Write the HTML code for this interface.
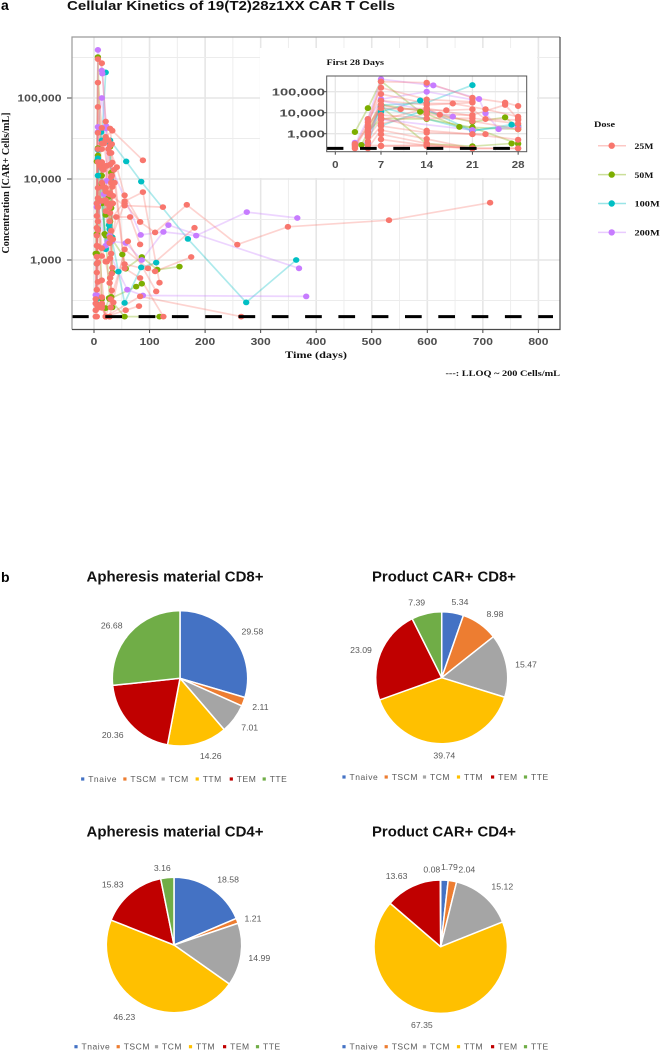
<!DOCTYPE html>
<html>
<head>
<meta charset="utf-8">
<title>Cellular Kinetics of 19(T2)28z1XX CAR T Cells</title>
<style>
html,body{margin:0;padding:0;background:#fff;}
#figure{display:block;width:660px;height:1050px;overflow:hidden;filter:blur(0.35px);}
</style>
</head>
<body>
<svg id="figure" xmlns="http://www.w3.org/2000/svg" width="660" height="1050" viewBox="0 0 660 1050">
  <text x="1" y="10" font-family="'Liberation Sans',sans-serif" font-weight="700" font-size="14" fill="#000">a</text>
  <text x="67" y="10" textLength="328" lengthAdjust="spacingAndGlyphs" font-family="'Liberation Sans',sans-serif" font-weight="700" font-size="13" fill="#111">Cellular Kinetics of 19(T2)28z1XX CAR T Cells</text>
  <text x="1" y="582" font-family="'Liberation Sans',sans-serif" font-weight="700" font-size="14" fill="#000">b</text>
  <g id="main-chart"></g>
  <g id="inset-chart"></g>
  <g id="dose-legend"></g>
  <g id="pies"></g>
</svg>
<script>
/* ---------- kinetics data: one array per dose, each patient a list of [day, cells/mL] ---------- */
const doseLabels = ['25M', '50M', '100M', '200M'];
const patients25M = [
  [[3,290],[5,2000],[7,302000],[14,269000],[21,51300],[26,30200],[28,20900]],
  [[5,5000],[7,155000],[14,42700],[21,33100],[33,39500],[88,17000]],
  [[3,240],[5,3500],[7,77600],[14,27500],[18,27500],[23,14500],[28,6460]],
  [[5,1500],[7,37200],[14,23400],[21,30200],[41,14000],[55,6300],[83,2950],[110,2190],[167,4800],[258,1550],[349,2570],[531,3100],[713,5100]],
  [[5,900],[7,23400],[10,14800],[14,16200],[16,8000],[21,7760],[26,23400],[28,5000]],
  [[3,200],[5,2500],[7,16200],[14,13500],[17,13000],[21,14500],[23,5000],[28,4470]],
  [[5,1100],[7,7760],[14,5370],[21,5500],[28,3000],[55,5300],[88,6900],[118,525]],
  [[5,700],[7,4470],[14,16000],[21,7000],[55,4700],[124,4500]],
  [[5,430],[7,2340],[14,1120],[21,955],[23,955],[40,3400],[65,3400],[83,1560]],
  [[5,200],[7,1480],[14,562],[21,200],[61,1700],[112,410]],
  [[7,933],[14,347],[21,200],[83,355],[265,200]],
  [[7,537],[14,275],[21,200],[57,240],[81,270]],
  [[7,257],[14,257],[21,200],[28,200],[55,1350],[97,790],[181,2500]],
  [[30,330],[32,11000],[36,13000],[55,890],[110,725],[175,1090]],
  [[30,260],[33,8000],[37,9000],[55,790],[83,600],[125,200]],
  [[7,3000],[14,9000],[21,4000],[28,1620],[55,5000],[83,2950]],
  [[7,5800],[14,1400],[21,955],[28,520]],
  [[29,1900],[31,1200],[33,800]],
  [[3,330],[5,280],[7,270],[14,290],[21,200],[28,200]],
  [[29,600],[32,420],[35,300]],
  [[29,3800],[31,2300],[34,1800]],
  [[29,15000],[31,9000],[34,6200]],
  [[29,26000],[31,21000],[33,16000]],
  [[29,6700],[31,10500],[34,5000]],
  [[29,1050],[32,680]],
  [[29,42000],[32,27000]]
];
const patients50M = [
  [[3,1200],[5,16500],[7,320000],[13,11000],[14,8700],[19,2100],[28,1620]],
  [[4,290],[7,19500],[14,330],[21,255],[27,340],[55,200],[118,200]],
  [[5,2100],[7,24000],[14,11000],[21,3600],[26,6000],[28,2000],[51,1170],[57,780],[86,1090],[114,760],[154,830]],
  [[5,1200],[7,5200],[14,5000],[21,2000],[28,330],[76,470],[86,510]],
  [[29,3000],[31,12000],[33,700]],
  [[29,25000],[31,4400],[33,1900]],
  [[29,600],[31,350],[33,260]]
];
const patients100M = [
  [[5,330],[7,23000],[14,30000],[21,207000]],
  [[7,11000],[13,38000],[29,30000],[58,16500],[85,9300],[169,1820],[274,300],[364,1000]],
  [[7,2400],[14,14000],[21,1360],[27,2700],[44,720],[55,295],[85,810],[112,930]],
  [[5,900],[7,18000],[21,1400],[28,2400]],
  [[29,27000],[31,9500],[33,1900]]
];
const patients200M = [
  [[3,290],[5,5000],[7,392000],[14,218000],[15,200000],[22,45000],[23,9500],[25,1650],[28,2000]],
  [[3,370],[5,370],[7,44000],[14,100000],[21,42000],[29,15000],[84,2040],[125,2220],[184,2000],[275,3900],[366,3300]],
  [[5,4500],[7,38000],[18,6500],[32,1700],[57,1620],[86,1000],[134,2700],[369,790]],
  [[7,4800],[21,1500],[60,430],[88,365],[382,355]]
];
const xTicksMain = ['0','100','200','300','400','500','600','700','800'];
const yTicksMain = ['1,000','10,000','100,000'];
const xTicksInset = ['0','7','14','21','28'];
const yTicksInset = ['1,000','10,000','100,000'];
const lloqValue = 200;

/* ---------- pie data ---------- */
const sliceLabels = ['Tnaive','TSCM','TCM','TTM','TEM','TTE'];
const titlesPies = ['Apheresis material CD8+','Product CAR+ CD8+','Apheresis material CD4+','Product CAR+ CD4+'];
const valuesCd8Apheresis = [29.58,2.11,7.01,14.26,20.36,26.68];
const valuesCd8Product = [5.34,8.98,15.47,39.74,23.09,7.39];
const valuesCd4Apheresis = [18.58,1.21,14.99,46.23,15.83,3.16];
const valuesCd4Product = [1.79,2.04,15.12,67.35,13.63,0.08];

/* ---------- layout ---------- */
const NS = 'http://www.w3.org/2000/svg';
const doseColors = ['#F8766D','#7CAE00','#00BFC4','#C77CFF'];
const doseKeys = ['dose-25m','dose-50m','dose-100m','dose-200m'];
const allDoses = [patients25M, patients50M, patients100M, patients200M];
const sliceColors = ['#4472C4','#ED7D31','#A5A5A5','#FFC000','#C00000','#70AD47'];
const SANS = "'Liberation Sans',sans-serif";
const SERIF = "'Liberation Serif',serif";

function make(tag, parent, attrs, text) {
  const n = document.createElementNS(NS, tag);
  for (const k in attrs) n.setAttribute(k, attrs[k]);
  if (text !== undefined) n.textContent = text;
  parent.appendChild(n);
  return n;
}

/* axis functions */
const mainX = d => 94 + d * 0.5555;
const mainY = v => 98 + (5 - Math.log10(v)) * 81;
const insetX = d => 335.3 + d * 6.53;
const insetY = v => 91.7 + (5 - Math.log10(v)) * 21;

function drawSeries(parent, xf, yf, maxDay, rx, ry, prefix) {
  const order = [1, 2, 3, 0];
  order.forEach(i => {
    allDoses[i].forEach((pts, p) => {
      const shown = pts.filter(q => q[0] <= maxDay);
      if (!shown.length) return;
      const line = make('polyline', parent, {
        points: shown.map(q => xf(q[0]).toFixed(1) + ',' + yf(q[1]).toFixed(1)).join(' '),
        fill: 'none', stroke: doseColors[i], 'stroke-width': 1.7, 'stroke-opacity': 0.32
      });
      
      
    });
  });
  order.forEach(i => {
    allDoses[i].forEach(pts => {
      pts.filter(q => q[0] <= maxDay).forEach(q => {
        const dot = make('ellipse', parent, {
          cx: xf(q[0]).toFixed(1), cy: yf(q[1]).toFixed(1), rx: rx, ry: ry, fill: doseColors[i]
        });
        
        
      });
    });
  });
}

function drawLloq(parent, x0, x1, y, name) {
  const l = make('line', parent, {
    x1: x0, x2: x1, y1: y, y2: y, stroke: '#000', 'stroke-width': 3, 'stroke-dasharray': '16.7 16.6'
  });
  
  
}

/* ---------- main chart ---------- */
(function () {
  const g = document.getElementById('main-chart');
  const L = 72, R = 560, T = 37, B = 329.5;
  const bg = make('rect', g, {x: L, y: T, width: R - L, height: B - T, fill: '#fff'});
  
  
  xTicksMain.forEach(t => {
    const d = +t;
    const maj = make('line', g, {x1: mainX(d), x2: mainX(d), y1: T, y2: B, stroke: '#e6e6e6', 'stroke-width': 1.6});
    
    
    if (d < 800) {
      const min = make('line', g, {x1: mainX(d + 50), x2: mainX(d + 50), y1: T, y2: B, stroke: '#ececec', 'stroke-width': 0.9});
      
      
    }
    const tick = make('line', g, {x1: mainX(d), x2: mainX(d), y1: B, y2: B + 3.5, stroke: '#444', 'stroke-width': 1});
    
    
    const label = make('text', g, {
      x: mainX(d), y: 345, 'text-anchor': 'middle', 'font-family': SANS, 'font-weight': 700, 'font-size': 10,
      fill: '#4d4d4d', textLength: t.length * 6.7, lengthAdjust: 'spacingAndGlyphs'
    }, t);
    
    
  });
  yTicksMain.forEach(t => {
    const v = +t.replace(/,/g, '');
    const maj = make('line', g, {x1: L, x2: R, y1: mainY(v), y2: mainY(v), stroke: '#e6e6e6', 'stroke-width': 1.6});
    
    
    const tick = make('line', g, {x1: L - 5, x2: L, y1: mainY(v), y2: mainY(v), stroke: '#444', 'stroke-width': 1});
    
    
    const label = make('text', g, {
      x: 61.5, y: mainY(v) + 3.6, 'text-anchor': 'end', 'font-family': SANS, 'font-weight': 700, 'font-size': 10,
      fill: '#4d4d4d', textLength: t.length * 6.3, lengthAdjust: 'spacingAndGlyphs'
    }, t);
    
    
  });
  [3.5, 4.5, 5.5, 2.5].forEach(e => {
    const y = mainY(Math.pow(10, e));
    const min = make('line', g, {x1: L, x2: R, y1: y, y2: y, stroke: '#ececec', 'stroke-width': 0.9});
    
    
  });
  drawSeries(g, mainX, mainY, 9999, 3.2, 2.9, 'main');
  drawLloq(g, L, 553, mainY(lloqValue), 'main-lloq-line');
  const b1 = make('path', g, {d: `M${L} ${B}V${T}H${R}`, fill: 'none', stroke: '#9a9a9a', 'stroke-width': 1.2});
  
  
  const b2 = make('path', g, {d: `M${L} ${B}H${R}V${T}`, fill: 'none', stroke: '#4a4a4a', 'stroke-width': 1.2});
  
  
  const xt = make('text', g, {
    x: 316, y: 358, 'text-anchor': 'middle', 'font-family': SERIF, 'font-weight': 700, 'font-size': 9.5,
    fill: '#111', textLength: 62, lengthAdjust: 'spacingAndGlyphs'
  }, 'Time (days)');
  
  
  const yt = make('text', g, {
    transform: 'translate(9,183) rotate(-90)', 'text-anchor': 'middle', 'font-family': SERIF, 'font-weight': 700,
    'font-size': 10, fill: '#111', textLength: 141, lengthAdjust: 'spacingAndGlyphs'
  }, 'Concentration [CAR+ Cells/mL]');
  
  
  const note = make('text', g, {
    x: 445.5, y: 376, 'font-family': SERIF, 'font-weight': 700, 'font-size': 8,
    fill: '#111', textLength: 114.5, lengthAdjust: 'spacingAndGlyphs'
  }, '---: LLOQ ~ 200 Cells/mL');
  
  
})();

/* ---------- inset ---------- */
(function () {
  const g = document.getElementById('inset-chart');
  const L = 326.7, R = 526.7, T = 76, B = 151.7;
  const cover = make('rect', g, {x: 260, y: 48, width: 277, height: 130, fill: '#fff'});
  
  
  const title = make('text', g, {
    x: 326.5, y: 65, 'font-family': SERIF, 'font-weight': 700, 'font-size': 8, fill: '#111',
    textLength: 57.5, lengthAdjust: 'spacingAndGlyphs'
  }, 'First 28 Days');
  
  
  xTicksInset.forEach(t => {
    const d = +t;
    const grid = make('line', g, {x1: insetX(d), x2: insetX(d), y1: T, y2: B, stroke: '#e6e6e6', 'stroke-width': 1.3});
    
    
    if (d < 28) {
      const min = make('line', g, {x1: insetX(d + 3.5), x2: insetX(d + 3.5), y1: T, y2: B, stroke: '#ededed', 'stroke-width': 0.8});
      
      
    }
    const tick = make('line', g, {x1: insetX(d), x2: insetX(d), y1: B, y2: B + 3, stroke: '#444', 'stroke-width': 1});
    
    
    const label = make('text', g, {
      x: insetX(d), y: 168, 'text-anchor': 'middle', 'font-family': SANS, 'font-weight': 700, 'font-size': 10,
      fill: '#4d4d4d', textLength: t.length * 6.4, lengthAdjust: 'spacingAndGlyphs'
    }, t);
    
    
  });
  yTicksInset.forEach(t => {
    const v = +t.replace(/,/g, '');
    const grid = make('line', g, {x1: L, x2: R, y1: insetY(v), y2: insetY(v), stroke: '#e6e6e6', 'stroke-width': 1.3});
    
    
    const tick = make('line', g, {x1: L - 3, x2: L, y1: insetY(v), y2: insetY(v), stroke: '#444', 'stroke-width': 1});
    
    
    const label = make('text', g, {
      x: 325, y: insetY(v) + 3.6, 'text-anchor': 'end', 'font-family': SANS, 'font-weight': 700, 'font-size': 10,
      fill: '#4d4d4d', textLength: t.length * 7.6, lengthAdjust: 'spacingAndGlyphs'
    }, t);
    
    
  });
  drawSeries(g, insetX, insetY, 28, 3.2, 3, 'inset');
  drawLloq(g, L, R, insetY(lloqValue), 'inset-lloq-line');
  const border = make('rect', g, {x: L, y: T, width: R - L, height: B - T, fill: 'none', stroke: '#555', 'stroke-width': 1});
  
  
})();

/* ---------- dose legend ---------- */
(function () {
  const g = document.getElementById('dose-legend');
  const t = make('text', g, {
    x: 594, y: 127, 'font-family': SERIF, 'font-weight': 700, 'font-size': 8, fill: '#111',
    textLength: 21, lengthAdjust: 'spacingAndGlyphs'
  }, 'Dose');
  
  
  doseLabels.forEach((lab, i) => {
    const y = 145.7 + i * 28.9;
    const line = make('line', g, {x1: 598, x2: 626, y1: y, y2: y, stroke: doseColors[i], 'stroke-width': 1.5, 'stroke-opacity': 0.4});
    
    
    const dot = make('circle', g, {cx: 611.7, cy: y, r: 3.2, fill: doseColors[i]});
    
    
    const text = make('text', g, {
      x: 634.5, y: y + 3.2, 'font-family': SERIF, 'font-weight': 700, 'font-size': 8.5, fill: '#111',
      textLength: lab.length * 6.3, lengthAdjust: 'spacingAndGlyphs'
    }, lab);
    
    
  });
})();

/* ---------- pies ---------- */
const pieLayouts = [
  {cx: 180, cy: 678.3, r: 67.7, titleY: 581.7, titleX: 175, titleW: 177, legendX: 82.7, legendY: 779,
   nudges: [[3.7,4.3],[0,-1],[1,-2],[8.5,-5.3],[-4.3,-1.4],[-4.6,4.3]]},
  {cx: 441.7, cy: 677.7, r: 66, titleY: 581.7, titleX: 444, titleW: 144, legendX: 344, legendY: 777,
   nudges: [[4.3,7.1],[4.7,4.8],[1.7,2.1],[0.8,-6],[-2.7,3.6],[-5.7,6.7]]},
  {cx: 174, cy: 945, r: 67.7, titleY: 836.7, titleX: 175, titleW: 177, legendX: 76, legendY: 1046.7,
   nudges: [[6.9,5.9],[-1,4.3],[0.5,0.7],[-8.9,-3.4],[-6.4,5.4],[-3.2,8.3]]},
  {cx: 440.7, cy: 946.7, r: 66.7, titleY: 836.7, titleX: 444, titleW: 144, legendX: 344, legendY: 1046.7,
   nudges: [[3.9,5.1],[11.2,6],[6,3.9],[-4.9,-5.3],[-8.5,6.2],[-8.7,7.3]]}
];
const legendOffsets = [0, 42.2, 80.5, 114.5, 148.6, 181.5];
const allPieValues = [valuesCd8Apheresis, valuesCd8Product, valuesCd4Apheresis, valuesCd4Product];
const pieKeys = ['apheresis-cd8','product-cd8','apheresis-cd4','product-cd4'];

allPieValues.forEach((vals, pi) => {
  const root = document.getElementById('pies');
  const lay = pieLayouts[pi];
  const g = make('g', root, {});
  
  
  const title = make('text', g, {
    x: lay.titleX, y: lay.titleY, 'text-anchor': 'middle', 'font-family': SANS, 'font-weight': 700,
    'font-size': 14.5, fill: '#111', textLength: lay.titleW, lengthAdjust: 'spacingAndGlyphs'
  }, titlesPies[pi]);
  
  
  const total = vals.reduce((a, b) => a + b, 0);
  let cum = 0;
  vals.forEach((v, i) => {
    const a0 = cum / total * 2 * Math.PI;
    cum += v;
    const a1 = cum / total * 2 * Math.PI;
    const mid = (a0 + a1) / 2;
    const x0 = lay.cx + lay.r * Math.sin(a0), y0 = lay.cy - lay.r * Math.cos(a0);
    const x1 = lay.cx + lay.r * Math.sin(a1), y1 = lay.cy - lay.r * Math.cos(a1);
    const large = a1 - a0 > Math.PI ? 1 : 0;
    const slice = make('path', g, {
      d: `M${lay.cx} ${lay.cy}L${x0.toFixed(2)} ${y0.toFixed(2)}A${lay.r} ${lay.r} 0 ${large} 1 ${x1.toFixed(2)} ${y1.toFixed(2)}Z`,
      fill: sliceColors[i], stroke: '#fff', 'stroke-width': 1.5, 'stroke-linejoin': 'round'
    });
    
    
    const rl = lay.r + 18;
    const n = lay.nudges[i];
    const label = make('text', g, {
      x: (lay.cx + rl * Math.sin(mid) + n[0]).toFixed(1),
      y: (lay.cy - rl * Math.cos(mid) + n[1] + 3).toFixed(1),
      'text-anchor': 'middle', 'font-family': SANS, 'font-size': 8.7, fill: '#595959'
    }, v.toFixed(2));
    
    
    const sx = lay.legendX + legendOffsets[i];
    const key = make('rect', g, {x: sx - 1.6, y: lay.legendY - 1.6, width: 3.2, height: 3.2, fill: sliceColors[i]});
    
    
    const lt = make('text', g, {
      x: sx + 5.5, y: lay.legendY + 3, 'font-family': SANS, 'font-size': 8.5, 'letter-spacing': 0.55, fill: '#595959'
    }, sliceLabels[i]);
    
    
  });
});
</script>
</body>
</html>
